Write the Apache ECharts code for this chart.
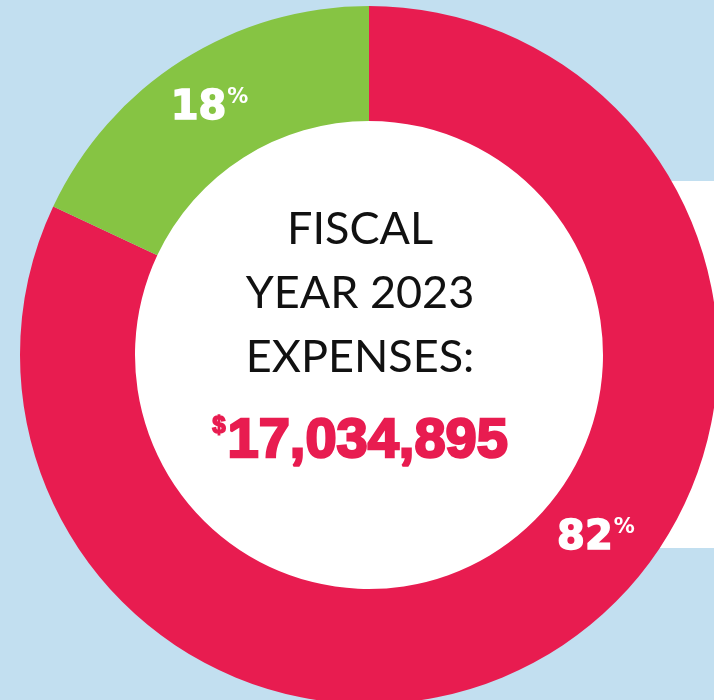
<!DOCTYPE html>
<html>
<head>
<meta charset="utf-8">
<script src="https://cdn.jsdelivr.net/npm/echarts@6/dist/echarts.min.js"></script>
<style>
  html, body { margin: 0; padding: 0; background: #C2DFF0; }
  #chart { width: 714px; height: 700px; }
</style>
</head>
<body>
<div id="chart"></div>
<script>
// Expense split for fiscal year 2023 (percent of total)
const categories = ['Program', 'Support'];
const shares = [82, 18];
const sliceColors = ['#E81C50', '#86C443'];
const totalExpenses = '17,034,895';
const centerLines = ['FISCAL', 'YEAR 2023', 'EXPENSES:'];

const chart = echarts.init(document.getElementById('chart'), null, { renderer: 'canvas' });

const cx = 369, cy = 355, rIn = 234, rOut = 349;
const textX = 360;

chart.setOption({
  backgroundColor: '#C2DFF0',
  animation: false,
  graphic: [
    { type: 'rect', z: 0, shape: { x: 560, y: 181, width: 160, height: 367 }, style: { fill: '#FFFFFF' } },
    { type: 'circle', z: 0, shape: { cx: cx, cy: cy, r: rIn + 1 }, style: { fill: '#FFFFFF' } },
    ...centerLines.map((t, i) => ({
      type: 'text', z: 100,
      style: {
        x: textX, y: 229 + i * 64, text: t,
        font: '45px Lato', fill: '#111111', align: 'center', verticalAlign: 'middle'
      }
    })),
    {
      type: 'text', z: 100,
      style: {
        x: textX, y: 442,
        text: '{s|$}{n|' + totalExpenses + '}',
        align: 'center', verticalAlign: 'middle',
        rich: {
          s: { font: 'bold 24px "Liberation Sans"', fill: '#E81C50', stroke: '#E81C50', lineWidth: 1.5, verticalAlign: 'top', padding: [0, 2, 26, 0] },
          n: { font: 'bold 56px "Liberation Sans"', fill: '#E81C50', stroke: '#E81C50', lineWidth: 2.5 }
        }
      }
    }
  ],
  series: [{
    type: 'pie',
    center: [cx, cy],
    radius: [rIn, rOut],
    startAngle: 90,
    clockwise: true,
    z: 2,
    data: categories.map((c, i) => ({ name: c, value: shares[i], itemStyle: { color: sliceColors[i] } })),
    label: {
      show: true,
      position: 'inside',
      formatter: p => '{n|' + p.value + '}{p|%}',
      rich: {
        n: { fontFamily: 'DejaVu Sans', fontWeight: 'bold', fontSize: 40, color: '#FFFFFF', textBorderColor: '#FFFFFF', textBorderWidth: 1.5 },
        p: { fontFamily: 'DejaVu Sans', fontWeight: 'bold', fontSize: 21, color: '#FFFFFF', padding: [0, 0, 22, 1] }
      }
    },
    labelLine: { show: false },
    labelLayout: function (params) {
      // place the large slice's label lower-right on the ring
      if (params.dataIndex === 0) {
        const a = 129 * Math.PI / 180, r = 292;
        return { x: cx + r * Math.sin(a), y: cy - r * Math.cos(a), align: 'center', verticalAlign: 'middle' };
      }
      const a = -32.4 * Math.PI / 180, r = 292;
      return { x: cx + r * Math.sin(a) - 3, y: cy - r * Math.cos(a), align: 'center', verticalAlign: 'middle' };
    },
    emphasis: { disabled: true },
    silent: true
  }]
});
</script>
</body>
</html>
